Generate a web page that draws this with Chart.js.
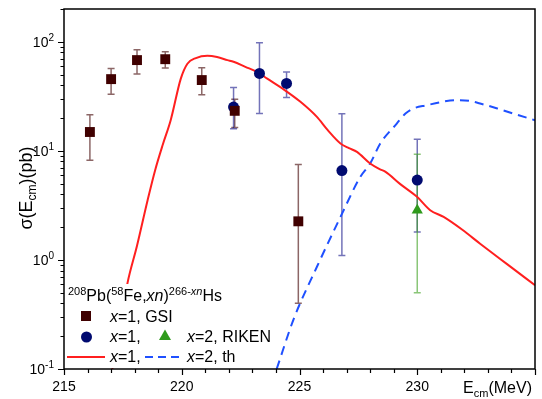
<!DOCTYPE html>
<html><head><meta charset="utf-8">
<script src="https://cdn.jsdelivr.net/npm/chart.js@4.4.0/dist/chart.umd.min.js"></script>
<style>html,body{margin:0;padding:0;background:#fff;}#wrap{width:542px;height:399px;position:relative;}</style>
</head><body><div id="wrap"><canvas id="c" width="542" height="399"></canvas></div>
<script>
// ---- data ----
const xTickLabels = [215, 220, 225, 230];
const yTickExps = [-1, 0, 1, 2];

const gsiE  = [216.1, 217.0, 218.1, 219.3, 220.85, 222.25, 224.95];
const gsiS  = [14.9, 45.5, 68, 69.3, 44.6, 23.3, 2.26];
const gsiLo = [8.2, 33, 50.6, 57.4, 32.7, 16.4, 0.4];
const gsiHi = [21.4, 57, 84.5, 81, 57.8, 29.8, 7.5];

const rik1E  = [222.2, 223.3, 224.45, 226.8, 230.0];
const rik1S  = [25.2, 51.3, 41.5, 6.6, 5.4];
const rik1Lo = [16, 22, 30.9, 1.1, 1.8];
const rik1Hi = [38.2, 98, 53, 21.9, 12.8];

const rik2E  = [230.0];
const rik2S  = [2.86];
const rik2Lo = [0.5];
const rik2Hi = [9.3];

const th1E = [217.05, 217.7, 218.1, 218.55, 218.87, 219.2, 219.53, 219.96, 220.24, 220.6, 221.09, 221.5, 221.94, 222.2, 222.7, 223.2, 223.63, 224.3, 225.04, 225.74, 226.2, 226.74, 227.1, 227.44, 228.0, 228.4, 228.64, 229.28, 229.99, 230.55, 231.12, 231.9, 232.67, 233.8, 235.0];
const th1S = [0.1, 0.62, 1.35, 3.53, 6.65, 11.5, 19.1, 46, 63, 71, 74.4, 72.5, 68, 65.6, 59, 53, 46, 37, 28.2, 20.5, 15.5, 11.7, 10.6, 9.8, 7.66, 6.8, 6.45, 4.96, 3.79, 2.86, 2.48, 1.9, 1.41, 0.92, 0.586];

const th2E = [224.03, 224.76, 225.75, 226.74, 227.58, 228.0, 228.43, 229.13, 229.5, 229.84, 230.4, 231.0, 231.6, 232.2, 232.67, 233.4, 234.08, 235.0];
const th2S = [0.1, 0.29, 0.875, 2.48, 5.77, 7.66, 11.7, 17.8, 22, 24.5, 26.2, 28, 29.2, 28.8, 27.2, 24.5, 22, 19.1];

// ---- styles ----
const FONT = '"Liberation Sans", Arial, sans-serif';
const C_GSI = '#400000', C_GSI_ERR = 'rgba(64,0,0,0.6)';
const C_RIK = '#000a70', C_RIK_ERR = 'rgba(0,0,128,0.55)';
const C_RIK2 = '#2f9a1c', C_RIK2_ERR = 'rgba(60,160,30,0.6)';
const C_TH1 = '#ff1f1f', C_TH2 = '#1f50ff';

const zip = (a, b) => a.map((v, i) => ({x: v, y: b[i]}));

function richText(ctx, parts, x, y, align) {
  let w = 0;
  parts.forEach(p => { ctx.font = (p.it ? 'italic ' : '') + p.s + 'px ' + FONT; p.w = ctx.measureText(p.t).width; w += p.w; });
  let cx = align === 'right' ? x - w : align === 'center' ? x - w / 2 : x;
  ctx.textAlign = 'left'; ctx.textBaseline = 'alphabetic';
  parts.forEach(p => { ctx.font = (p.it ? 'italic ' : '') + p.s + 'px ' + FONT; ctx.fillText(p.t, cx, y + (p.dy || 0)); cx += p.w; });
}

const errorBars = {
  id: 'errorBars',
  beforeDatasetsDraw(chart) {
    const ctx = chart.ctx, xs = chart.scales.x, ys = chart.scales.y;
    const sets = [[gsiE, gsiLo, gsiHi, C_GSI_ERR], [rik1E, rik1Lo, rik1Hi, C_RIK_ERR], [rik2E, rik2Lo, rik2Hi, C_RIK2_ERR]];
    ctx.save();
    ctx.lineWidth = 1.5;
    sets.forEach(([E, lo, hi, col]) => {
      ctx.strokeStyle = col;
      E.forEach((e, i) => {
        const px = xs.getPixelForValue(e), p1 = ys.getPixelForValue(lo[i]), p2 = ys.getPixelForValue(hi[i]);
        ctx.beginPath();
        ctx.moveTo(px, p1); ctx.lineTo(px, p2);
        ctx.moveTo(px - 3.5, p1); ctx.lineTo(px + 3.5, p1);
        ctx.moveTo(px - 3.5, p2); ctx.lineTo(px + 3.5, p2);
        ctx.stroke();
      });
    });
    ctx.restore();
  }
};

const legendBox = {
  id: 'legendBox',
  afterDatasetsDraw(chart) {
    const ctx = chart.ctx;
    ctx.save();
    ctx.fillStyle = '#fff';
    ctx.fillRect(65, 284, 209, 84);
    ctx.fillStyle = '#000';
    richText(ctx, [{t: '208', s: 11, dy: -6}, {t: 'Pb(', s: 16}, {t: '58', s: 11, dy: -6}, {t: 'Fe,', s: 16}, {t: 'xn', s: 16, it: true}, {t: ')', s: 16}, {t: '266-', s: 11, dy: -6}, {t: 'xn', s: 11, dy: -6, it: true}, {t: 'Hs', s: 16}], 68, 301);
    // row 1
    ctx.fillStyle = C_GSI; ctx.fillRect(81, 311, 10, 10);
    ctx.fillStyle = '#000';
    richText(ctx, [{t: 'x', s: 16, it: true}, {t: '=1, GSI', s: 16}], 110, 322);
    // row 2
    ctx.fillStyle = C_RIK; ctx.beginPath(); ctx.arc(86.5, 337, 5.5, 0, Math.PI * 2); ctx.fill();
    ctx.fillStyle = C_RIK2; ctx.beginPath(); ctx.moveTo(165, 329.5); ctx.lineTo(171, 340); ctx.lineTo(159, 340); ctx.closePath(); ctx.fill();
    ctx.fillStyle = '#000';
    richText(ctx, [{t: 'x', s: 16, it: true}, {t: '=1,', s: 16}], 110, 342);
    richText(ctx, [{t: 'x', s: 16, it: true}, {t: '=2, RIKEN', s: 16}], 187, 342);
    // row 3
    ctx.lineWidth = 2;
    ctx.strokeStyle = C_TH1; ctx.beginPath(); ctx.moveTo(67, 357); ctx.lineTo(105, 357); ctx.stroke();
    ctx.strokeStyle = C_TH2; ctx.setLineDash([8, 5]); ctx.beginPath(); ctx.moveTo(145, 357); ctx.lineTo(183, 357); ctx.stroke();
    ctx.setLineDash([]);
    richText(ctx, [{t: 'x', s: 16, it: true}, {t: '=1,', s: 16}], 110, 362);
    richText(ctx, [{t: 'x', s: 16, it: true}, {t: '=2, th', s: 16}], 187, 362);
    ctx.restore();
  }
};

const frame = {
  id: 'frame',
  afterDraw(chart) {
    const ctx = chart.ctx, a = chart.chartArea, xs = chart.scales.x, ys = chart.scales.y;
    ctx.save();
    ctx.strokeStyle = '#000'; ctx.lineWidth = 1.5;
    ctx.strokeRect(a.left, a.top, a.right - a.left, a.bottom - a.top);
    ctx.lineWidth = 1.2;
    ctx.beginPath();
    for (let v = 215; v <= 235; v++) {
      const px = Math.round(xs.getPixelForValue(v)) + 0.5;
      const len = v % 5 === 0 ? 6 : 4;
      ctx.moveTo(px, a.bottom); ctx.lineTo(px, a.bottom + len);
    }
    for (let e = -1; e <= 2; e++) {
      for (let m = 1; m <= 9; m++) {
        const val = m * Math.pow(10, e);
        if (val > 200.0001) continue;
        const py = Math.round(ys.getPixelForValue(val)) + 0.5;
        const len = m === 1 ? 6 : 3.5;
        ctx.moveTo(a.left, py); ctx.lineTo(a.left - len, py);
      }
    }
    const pyTop = Math.round(ys.getPixelForValue(200)) + 0.5;
    ctx.moveTo(a.left, pyTop); ctx.lineTo(a.left - 3.5, pyTop);
    ctx.stroke();
    ctx.fillStyle = '#000';
    ctx.font = '14px ' + FONT; ctx.textAlign = 'center'; ctx.textBaseline = 'alphabetic';
    xTickLabels.forEach(v => ctx.fillText(String(v), xs.getPixelForValue(v), 391));
    yTickExps.forEach(e => {
      const py = ys.getPixelForValue(Math.pow(10, e));
      richText(ctx, [{t: '10', s: 14}, {t: String(e).replace('-', '-'), s: 10, dy: -6}], 54, py + 5, 'right');
    });
    // x title
    richText(ctx, [{t: 'E', s: 16}, {t: 'cm', s: 11, dy: 4}, {t: '(MeV)', s: 16}], 532, 393, 'right');
    // y title
    ctx.save();
    ctx.translate(32, 188); ctx.rotate(-Math.PI / 2);
    richText(ctx, [{t: 'σ(E', s: 18}, {t: 'cm', s: 12, dy: 4}, {t: ')(pb)', s: 18}], 0, 0, 'center');
    ctx.restore();
    ctx.restore();
  }
};

new Chart(document.getElementById('c'), {
  type: 'scatter',
  data: {
    datasets: [
      {label: 'x=1, GSI', data: zip(gsiE, gsiS), pointStyle: 'rect', pointRadius: 7, backgroundColor: C_GSI, borderColor: C_GSI, borderWidth: 0},
      {label: 'x=1, RIKEN', data: zip(rik1E, rik1S), pointStyle: 'circle', pointRadius: 5.5, backgroundColor: C_RIK, borderColor: C_RIK, borderWidth: 0},
      {label: 'x=2, RIKEN', data: zip(rik2E, rik2S), pointStyle: 'triangle', pointRadius: 6.5, backgroundColor: C_RIK2, borderColor: C_RIK2, borderWidth: 0},
      {label: 'x=1, th', data: zip(th1E, th1S), showLine: true, pointRadius: 0, borderColor: C_TH1, borderWidth: 2, cubicInterpolationMode: 'monotone', fill: false},
      {label: 'x=2, th', data: zip(th2E, th2S), showLine: true, pointRadius: 0, borderColor: C_TH2, borderWidth: 2, borderDash: [9, 6], cubicInterpolationMode: 'monotone', fill: false}
    ]
  },
  options: {
    responsive: false, animation: false, devicePixelRatio: 1,
    layout: {padding: {top: 9, right: 6, left: 0, bottom: 0}},
    plugins: {legend: {display: false}, tooltip: {enabled: false}},
    scales: {
      x: {type: 'linear', min: 215, max: 235, grid: {display: false}, border: {display: false}, ticks: {display: false},
          afterFit(s) { s.height = 30; }},
      y: {type: 'logarithmic', min: 0.1, max: 200, grid: {display: false}, border: {display: false}, ticks: {display: false},
          afterFit(s) { s.width = 64; }}
    }
  },
  plugins: [errorBars, legendBox, frame]
});
</script>
</body></html>
